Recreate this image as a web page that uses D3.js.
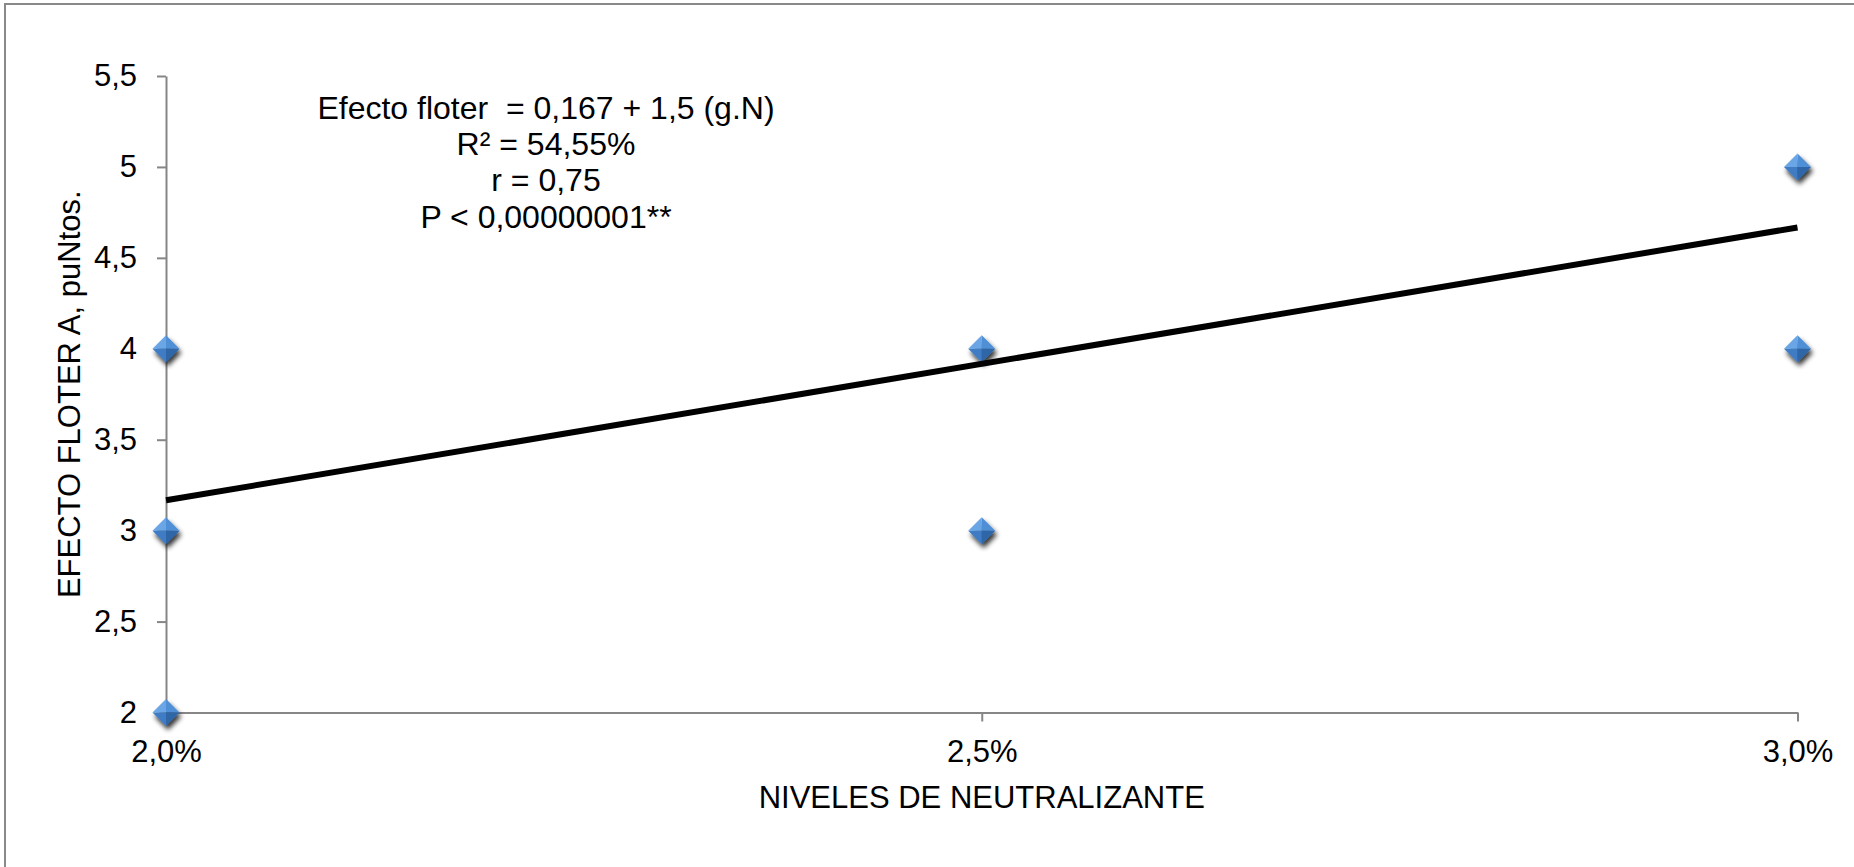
<!DOCTYPE html>
<html><head><meta charset="utf-8">
<script src="https://cdn.jsdelivr.net/npm/d3@7"></script>
<style>
html,body{margin:0;padding:0;background:#fff;}
text{font-family:"Liberation Sans",Arial,sans-serif;fill:#000;}
</style></head>
<body>
<svg id="chart" width="1854" height="867"></svg>
<script>
// ---- data ----
const xTickValues = [2.0, 2.5, 3.0];
const xTickLabels = ["2,0%", "2,5%", "3,0%"];
const yTickValues = [2, 2.5, 3, 3.5, 4, 4.5, 5, 5.5];
const yTickLabels = ["2", "2,5", "3", "3,5", "4", "4,5", "5", "5,5"];
const pointX = [2.0, 2.0, 2.0, 2.5, 2.5, 3.0, 3.0];
const pointY = [4, 3, 2, 4, 3, 5, 4];
const trendIntercept = 0.167;
const trendSlope = 1.5;
const annotationLines = ["Efecto floter  = 0,167 + 1,5 (g.N)", "R\u00b2 = 54,55%", "r = 0,75", "P < 0,00000001**"];
const xTitle = "NIVELES DE NEUTRALIZANTE";
const yTitle = "EFECTO FLOTER A, puNtos.";

const svg = d3.select("#chart");
const pL = 166, pR = 1797.5, pT = 76, pB = 712.5;
const tickFont = 31, titleFont = 31, noteFont = 32;

const x = d3.scaleLinear().domain([2.0, 3.0]).range([pL, pR]);
const y = d3.scaleLinear().domain([2, 5.5]).range([pB, pT]);

// outer border
svg.append("rect").attr("x", 5).attr("y", 4).attr("width", 1854).attr("height", 880)
  .attr("fill", "#fff").attr("stroke", "#898989").attr("stroke-width", 2);

const defs = svg.append("defs");
const f = defs.append("filter").attr("id", "shadow").attr("x", "-50%").attr("y", "-50%").attr("width", "200%").attr("height", "200%");
f.append("feGaussianBlur").attr("in", "SourceAlpha").attr("stdDeviation", 2.4).attr("result", "b");
f.append("feOffset").attr("in", "b").attr("dx", 2).attr("dy", 3.5).attr("result", "o");
f.append("feComponentTransfer").attr("in", "o").attr("result", "s").append("feFuncA").attr("type", "linear").attr("slope", 0.8);
const fm = f.append("feMerge");
fm.append("feMergeNode").attr("in", "s");
fm.append("feMergeNode").attr("in", "SourceGraphic");

// axes
const yAxis = d3.axisLeft(y).tickValues(yTickValues).tickFormat((d, i) => yTickLabels[i]).tickSize(9).tickSizeOuter(0).tickPadding(20);
const gy = svg.append("g").attr("transform", `translate(${pL},0)`).call(yAxis);
const xAxis = d3.axisBottom(x).tickValues(xTickValues).tickFormat((d, i) => xTickLabels[i]).tickSize(9).tickSizeOuter(0).tickPadding(18);
const gx = svg.append("g").attr("transform", `translate(0,${pB})`).call(xAxis);
[gx, gy].forEach(g => {
  g.select(".domain").attr("stroke", "#868686").attr("stroke-width", 2);
  g.selectAll(".tick line").attr("stroke", "#868686").attr("stroke-width", 2);
  g.selectAll(".tick text").attr("font-size", tickFont).attr("font-family", "Liberation Sans, Arial, sans-serif").attr("fill", "#000");
});
gx.selectAll(".tick").filter(d => d === 2.0).select("line").remove();
gy.selectAll(".tick").filter(d => d === 2).select("line").remove();

// points
const diamond = (cx, cy, r) => {
  const g = svg.append("g").attr("transform", `translate(${cx},${cy})`).attr("filter", "url(#shadow)");
  g.append("path").attr("d", `M0,${-r}L${-r},0L0,0Z`).attr("fill", "#6aa6e6");
  g.append("path").attr("d", `M0,${-r}L${r},0L0,0Z`).attr("fill", "#4f8fd6");
  g.append("path").attr("d", `M${-r},0L0,${r}L0,0Z`).attr("fill", "#3f7cc4");
  g.append("path").attr("d", `M${r},0L0,${r}L0,0Z`).attr("fill", "#2f66a8");
};
pointX.forEach((px, i) => diamond(x(px), y(pointY[i]), 13.5));

// trend line
const trend = d => trendIntercept + trendSlope * d;
svg.append("line")
  .attr("x1", x(2.0)).attr("y1", y(trend(2.0)))
  .attr("x2", x(3.0)).attr("y2", y(trend(3.0)))
  .attr("stroke", "#000").attr("stroke-width", 6);

// annotation
annotationLines.forEach((t, i) => {
  svg.append("text").attr("x", 546).attr("y", 119 + i * 36.2)
    .attr("text-anchor", "middle").attr("font-size", noteFont)
    .style("white-space", "pre").text(t);
});

// axis titles
svg.append("text").attr("x", (pL + pR) / 2).attr("y", 808)
  .attr("text-anchor", "middle").attr("font-size", titleFont).text(xTitle);
svg.append("text").attr("transform", `translate(80,${(pT + pB) / 2}) rotate(-90)`)
  .attr("text-anchor", "middle").attr("font-size", titleFont).text(yTitle);
</script>
</body></html>
